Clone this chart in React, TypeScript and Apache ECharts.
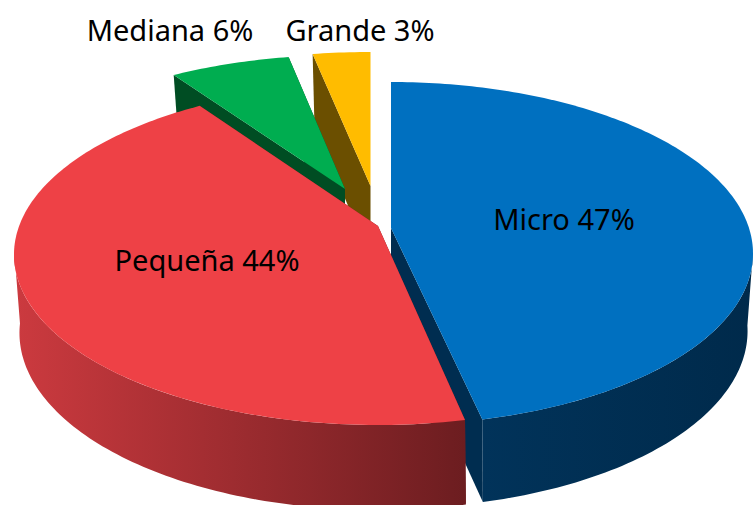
import React, { useEffect, useRef } from "react";
import * as echarts from "echarts";

// Data
const categories = ["Micro", "Pequeña", "Mediana", "Grande"];
const shares = [46.5, 44.1, 6.4, 3.0];

// Styles and layout
const topColors = ["#0070C0", "#EE4146", "#00AD50", "#FFBC00"];
const sideColors = ["#002D50", "#6E1E20", "#004D23", "#6B4F00"];
const wallStops = [
  ["#01335A", "#002A4B"],
  ["#CC3A3F", "#6C1D20"],
  ["#004D23", "#004D23"],
  ["#6B4F00", "#6B4F00"],
];
// exploded position of each wedge: apex, perspective radii and small angular trims
const wedgeLayout = [
  { ax: 391, ay: 228, rx: 362, up: 146, down: 197, botDown: 207, padStart: 0, padEnd: 0 },
  { ax: 378, ay: 226, rx: 364, up: 142, down: 199, botDown: 211, padStart: 0.9, padEnd: 0.6 },
  { ax: 345, ay: 189, rx: 353, up: 134, down: 185, botDown: 193, padStart: 0, padEnd: 0 },
  { ax: 370.5, ay: 186, rx: 362, up: 134, down: 185, botDown: 193, padStart: 0, padEnd: 0 },
];
const labelLayout = [
  { x: 564, y: 218 },
  { x: 207, y: 259 },
  { x: 170, y: 29 },
  { x: 360, y: 29 },
];
const drawOrder = [3, 2, 0, 1];
const DEPTH = 73;
const BOTTOM_RX = 0.985;
const VISIBLE_FROM = 98;
const VISIBLE_TO = 262;

function project(ax: number, ay: number, rx: number, up: number, down: number, deg: number) {
  const k = (up - down) / (up + down);
  const B = up * (1 - k);
  const A = rx * Math.sqrt(1 - k * k);
  const t = (deg * Math.PI) / 180;
  const u = Math.sin(t);
  const v = -Math.cos(t);
  const d = 1 + k * v;
  return [ax + (A * u) / d, ay + (B * v) / d];
}

export default function App() {
  const ref = useRef<HTMLDivElement>(null);
  useEffect(() => {
    const chart = echarts.init(ref.current!, null, { renderer: "svg" });
    const total = shares.reduce((a, b) => a + b, 0);
    const starts: number[] = [];
    let acc = 0;
    shares.forEach((s) => {
      starts.push((acc / total) * 360);
      acc += s;
    });
    const renderItem = (_params: any, api: any) => {
      const i = api.value(0) as number;
      const share = api.value(1) as number;
      const L = wedgeLayout[i];
      const a0 = starts[i] + L.padStart;
      const a1 = starts[i] + (share / total) * 360 - L.padEnd;
      const top = (d: number) => project(L.ax, L.ay, L.rx, L.up, L.down, d);
      const bot = (d: number) =>
        project(L.ax, L.ay + DEPTH, L.rx * BOTTOM_RX, L.up + 1, L.botDown, d);
      const apexT = [L.ax, L.ay];
      const apexB = [L.ax, L.ay + DEPTH];
      const arc = (f: (d: number) => number[], from: number, to: number) => {
        const pts: number[][] = [];
        const n = Math.max(4, Math.ceil(to - from));
        for (let j = 0; j <= n; j++) pts.push(f(from + ((to - from) * j) / n));
        return pts;
      };
      const side = sideColors[i];
      const children: any[] = [
        { type: "polygon", shape: { points: [apexT, top(a1), bot(a1), apexB] }, style: { fill: side } },
        { type: "polygon", shape: { points: [apexT, top(a0), bot(a0), apexB] }, style: { fill: side } },
      ];
      const w0 = Math.max(a0, VISIBLE_FROM);
      const w1 = Math.min(a1, VISIBLE_TO);
      if (w1 > w0) {
        children.push({
          type: "polygon",
          shape: { points: [...arc(top, w0, w1), ...arc(bot, w0, w1).reverse()] },
          style: {
            fill: new echarts.graphic.LinearGradient(0, 0, 1, 0, [
              { offset: 0, color: wallStops[i][0] },
              { offset: 1, color: wallStops[i][1] },
            ]),
          },
        });
      }
      children.push(
        { type: "polygon", shape: { points: [apexT, ...arc(top, a0, a1)] }, style: { fill: topColors[i] } },
        {
          type: "text",
          x: labelLayout[i].x,
          y: labelLayout[i].y,
          style: {
            text: `${categories[i]} ${Math.round(share)}%`,
            fontFamily: "Noto Sans",
            fontSize: 29,
            fill: "#000",
            align: "center",
            verticalAlign: "middle",
          },
        }
      );
      return { type: "group", children };
    };
    chart.setOption({
      animation: false,
      series: [
        {
          type: "custom",
          coordinateSystem: "none",
          renderItem,
          data: drawOrder.map((i) => [i, shares[i]]),
        },
      ],
    });
    return () => chart.dispose();
  }, []);
  return (
    <div
      ref={ref}
      style={{ position: "fixed", left: 0, top: 0, width: 753, height: 505, background: "#fff" }}
    />
  );
}
